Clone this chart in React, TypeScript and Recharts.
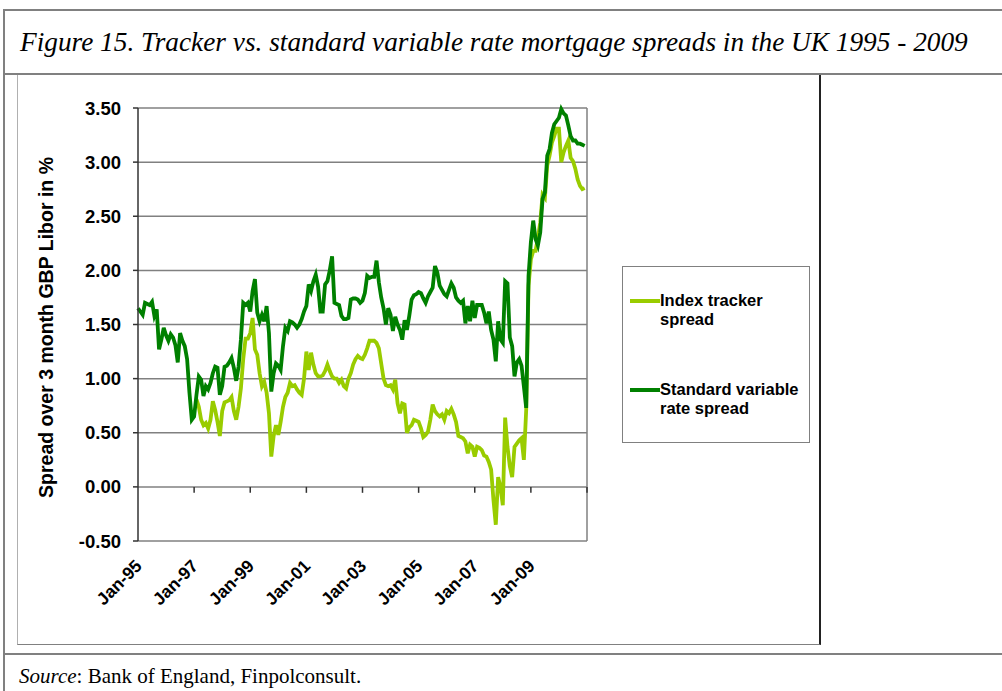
import { LineChart, Line, XAxis, YAxis, CartesianGrid, ReferenceLine, Legend } from "recharts"

// monthly, Jan-95 onwards
const svrSpread = [
  1.65, 1.62, 1.59, 1.70, 1.69, 1.68, 1.71, 1.58, 1.64, 1.27,
  1.36, 1.47, 1.40, 1.35, 1.41, 1.38, 1.31, 1.15, 1.42, 1.35,
  1.30, 1.18, 0.87, 0.62, 0.65, 0.85, 1.02, 0.99, 0.84, 0.93,
  0.90, 0.96, 1.05, 1.11, 1.10, 0.85, 0.93, 1.11, 1.12, 1.15,
  1.19, 1.10, 0.98, 1.11, 1.36, 1.70, 1.68, 1.70, 1.62, 1.81,
  1.92, 1.61, 1.53, 1.59, 1.53, 1.67, 1.42, 0.88, 1.05, 1.14,
  1.12, 1.08, 1.30, 1.47, 1.44, 1.53, 1.52, 1.50, 1.47, 1.50,
  1.55, 1.62, 1.67, 1.87, 1.81, 1.90, 1.96, 1.85, 1.62, 1.62,
  1.87, 1.90, 2.00, 2.13, 1.70, 1.69, 1.68, 1.58, 1.55, 1.55,
  1.56, 1.73, 1.74, 1.74, 1.73, 1.70, 1.72, 1.79, 1.95, 1.93,
  1.94, 1.94, 2.09, 1.89, 1.75, 1.65, 1.50, 1.65, 1.59, 1.44,
  1.57, 1.50, 1.45, 1.36, 1.54, 1.45, 1.58, 1.73, 1.77, 1.78,
  1.80, 1.79, 1.74, 1.70, 1.76, 1.80, 1.84, 2.04, 1.98, 1.86,
  1.82, 1.78, 1.76, 1.82, 1.88, 1.84, 1.75, 1.72, 1.70, 1.72,
  1.51, 1.67, 1.53, 1.72, 1.56, 1.68, 1.68, 1.68, 1.61, 1.51,
  1.62, 1.45, 1.36, 1.16, 1.53, 1.36, 1.33, 1.90, 1.88, 1.38,
  1.30, 1.02, 1.15, 1.18, 1.12, 0.93, 0.73, 1.95, 2.26, 2.46,
  2.29, 2.23, 2.35, 2.66, 2.72, 3.06, 3.12, 3.27, 3.35, 3.38,
  3.41, 3.49, 3.45, 3.43, 3.34, 3.24, 3.20, 3.20, 3.17, 3.17,
  3.16, 3.15,
]

// tracker series begins Feb-97 (month 25)
const trackerStart = 25
const trackerSpread = [
  0.81, 0.74, 0.62, 0.57, 0.59,
  0.54, 0.62, 0.79, 0.71, 0.60, 0.47, 0.70, 0.78, 0.79, 0.80,
  0.83, 0.70, 0.62, 0.74, 0.91, 1.18, 1.37, 1.37, 1.42, 1.56,
  1.27, 1.22, 1.05, 0.93, 0.97, 0.87, 0.68, 0.28, 0.47, 0.57,
  0.48, 0.60, 0.74, 0.83, 0.87, 0.96, 0.93, 0.94, 0.90, 0.87,
  0.85, 1.00, 1.25, 1.08, 1.24, 1.13, 1.05, 1.02, 1.02, 1.03,
  1.07, 1.13, 1.07, 1.02, 1.00, 1.00, 0.96, 0.99, 0.93, 0.91,
  1.00, 1.05, 1.13, 1.18, 1.21, 1.19, 1.18, 1.22, 1.28, 1.35,
  1.35, 1.35, 1.33, 1.28, 1.14, 1.00, 0.94, 0.93, 0.94, 0.90,
  0.99, 0.77, 0.68, 0.77, 0.76, 0.50, 0.55, 0.57, 0.62, 0.61,
  0.60, 0.54, 0.46, 0.48, 0.51, 0.62, 0.76, 0.70, 0.67, 0.65,
  0.67, 0.62, 0.70, 0.68, 0.72, 0.67, 0.60, 0.47, 0.46, 0.45,
  0.42, 0.31, 0.39, 0.37, 0.28, 0.37, 0.36, 0.34, 0.29, 0.28,
  0.23, 0.16, -0.12, -0.35, 0.09, 0.00, -0.17, 0.64, 0.37, 0.19,
  0.09, 0.37, 0.40, 0.43, 0.45, 0.25, 0.71, 1.86, 2.10, 2.18,
  2.18, 2.30, 2.44, 2.70, 2.67, 2.97, 3.06, 3.18, 3.24, 3.31,
  3.31, 3.00, 3.09, 3.15, 3.20, 3.04, 3.01, 2.94, 2.84, 2.78,
  2.75, 2.76,
]

const xTicks = [0, 24, 48, 72, 96, 120, 144, 168, 192]
const xLabels = ["Jan-95", "Jan-97", "Jan-99", "Jan-01", "Jan-03", "Jan-05", "Jan-07", "Jan-09", ""]
const yTicks = [-0.5, 0, 0.5, 1, 1.5, 2, 2.5, 3, 3.5]

const TRACKER = "#99cc00"
const SVR = "#008000"
const FONT = "'Liberation Sans', Arial, sans-serif"

const data = svrSpread.map((v, i) => ({
  m: i,
  svr: v,
  tracker: i >= trackerStart ? trackerSpread[i - trackerStart] : null,
}))

const legendItems = [
  { color: TRACKER, lines: ["Index tracker", "spread"] },
  { color: SVR, lines: ["Standard variable", "rate spread"] },
]

function XTick(props: any) {
  const { x, y, payload } = props
  const label = xLabels[xTicks.indexOf(payload.value)]
  return (
    <g transform={`translate(${x + 5},${y + 18}) rotate(-45)`}>
      <text textAnchor="end" fontFamily={FONT} fontWeight="bold" fontSize={17.5} fill="#000">
        {label}
      </text>
    </g>
  )
}

function LegendBox() {
  return (
    <div style={{ border: "1.5px solid #808080", width: 188, height: 177, boxSizing: "border-box", background: "#fff", paddingTop: 24 }}>
      {legendItems.map((it, i) => (
        <div key={i} style={{ display: "flex", alignItems: "flex-start", marginBottom: i === 0 ? 51 : 0 }}>
          <div style={{ width: 30, height: 4, background: it.color, marginLeft: 7, marginTop: 8 }} />
          <div style={{ fontFamily: FONT, fontWeight: "bold", fontSize: 16.5, lineHeight: "19px", color: "#000", whiteSpace: "nowrap" }}>
            {it.lines.map((l) => <div key={l}>{l}</div>)}
          </div>
        </div>
      ))}
    </div>
  )
}

export default function App() {
  return (
    <div style={{ position: "absolute", left: 0, top: 0, width: 1002, height: 691, background: "#fff", overflow: "hidden" }}>
      <div style={{ position: "absolute", left: 3, top: 9, width: 999, height: 2, background: "#808080" }} />
      <div style={{ position: "absolute", left: 3, top: 9, width: 2, height: 682, background: "#808080" }} />
      <div style={{ position: "absolute", left: 3, top: 73, width: 999, height: 2, background: "#808080" }} />
      <div style={{ position: "absolute", left: 3, top: 653, width: 999, height: 2, background: "#808080" }} />
      <div style={{ position: "absolute", left: 20, top: 28, fontFamily: "'Liberation Serif', serif", fontStyle: "italic", fontSize: 27.3, lineHeight: "28px", whiteSpace: "nowrap" }}>
        Figure 15. Tracker vs. standard variable rate mortgage spreads in the UK 1995 - 2009
      </div>
      <div style={{ position: "absolute", left: 17, top: 75, width: 804, height: 570, boxSizing: "border-box", borderLeft: "1px solid #b0b0b0", borderBottom: "1.5px solid #808080", borderRight: "2px solid #222" }} />
      <div style={{ position: "absolute", left: 19, top: 666, fontFamily: "'Liberation Serif', serif", fontSize: 21, lineHeight: "20px", whiteSpace: "nowrap" }}>
        <i>Source</i>: Bank of England, Finpolconsult.
      </div>
      <div style={{ position: "absolute", left: 0, top: 0 }}>
        <LineChart width={1002} height={691} data={data} margin={{ top: 108, right: 415, bottom: 90, left: 0 }}>
          <CartesianGrid vertical={false} stroke="#808080" strokeWidth={1.5} />
          <XAxis
            dataKey="m"
            type="number"
            domain={[0, 192]}
            ticks={xTicks}
            height={60}
            axisLine={false}
            tickLine={false}
            interval={0}
            tick={<XTick />}
          />
          <YAxis
            type="number"
            domain={[-0.5, 3.5]}
            ticks={yTicks}
            width={138}
            interval={0}
            axisLine={{ stroke: "#333", strokeWidth: 1.5 }}
            tickLine={{ stroke: "#333", strokeWidth: 1.5 }}
            tickSize={5}
            tickMargin={12}
            tickFormatter={(v: number) => v.toFixed(2)}
            tick={{ fontFamily: FONT, fontWeight: "bold", fontSize: 18.5, fill: "#000" }}
            label={{
              content: (p: any) => {
                const vb = p.viewBox
                const cx = vb.x + 46
                const cy = vb.y + vb.height / 2 + 3
                return (
                  <text x={cx} y={cy} transform={`rotate(-90, ${cx}, ${cy})`} textAnchor="middle" dominantBaseline="central" fontFamily={FONT} fontWeight="bold" fontSize={19.5} fill="#000">
                    Spread over 3 month GBP Libor in %
                  </text>
                )
              },
            }}
          />
          <ReferenceLine x={192} stroke="#808080" strokeWidth={1.5} ifOverflow="visible" />
          {xTicks.slice(1).map((t) => (
            <ReferenceLine key={t} segment={[{ x: t, y: 0 }, { x: t, y: -0.055 }]} stroke="#333" strokeWidth={1.5} ifOverflow="visible" />
          ))}
          <Line dataKey="tracker" stroke={TRACKER} strokeWidth={3.8} dot={false} isAnimationActive={false} connectNulls={false} />
          <Line dataKey="svr" stroke={SVR} strokeWidth={3.8} dot={false} isAnimationActive={false} />
          <Legend
            layout="vertical"
            align="center"
            verticalAlign="middle"
            content={() => <LegendBox />}
            wrapperStyle={{ position: "absolute", left: 622, top: 266, width: 188, height: 177 }}
          />
        </LineChart>
      </div>
    </div>
  )
}
